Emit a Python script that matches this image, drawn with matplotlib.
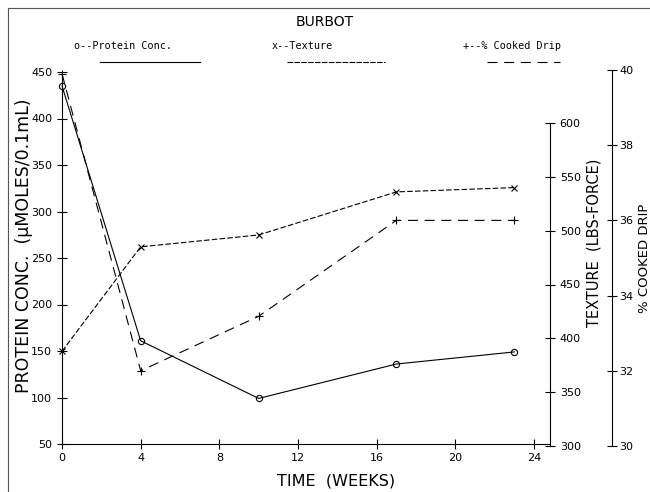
import matplotlib
matplotlib.use("Agg")
import matplotlib.pyplot as plt
from matplotlib.lines import Line2D

weeks = [0, 4, 10, 17, 23]
protein = [435, 161, 99, 136, 149]
texture = [388, 485, 496, 536, 540]
drip = [39.9, 32.0, 33.45, 36.0, 36.0]

xticks = [0, 4, 8, 12, 16, 20, 24]
protein_ticks = [50, 100, 150, 200, 250, 300, 350, 400, 450]
texture_ticks = [300, 350, 400, 450, 500, 550, 600]
drip_ticks = [30, 32, 34, 36, 38, 40]

W, H = 650, 492
fig = plt.figure(figsize=(W / 100, H / 100), dpi=100)
plt.rcParams['font.family'] = ['DejaVu Sans']

def fx(px):
    return px / W

def fy(py):
    return 1 - py / H

x0, x1 = 62, 550
xmax = (x1 - x0) / ((534 - 62) / 24)
lw = 0.8
tick_kw = dict(direction='inout', length=7, width=0.8, labelsize=8, colors='black')

# Protein axis
ax1 = fig.add_axes([fx(x0), fy(444), fx(x1 - x0), (444 - 72) / H])
ax1.set_xlim(0, xmax)
ax1.set_ylim(50, 450)
for s in ['top', 'right']:
    ax1.spines[s].set_visible(False)
for s in ['left', 'bottom']:
    ax1.spines[s].set_linewidth(0.8)
ax1.set_xticks(xticks)
ax1.set_yticks(protein_ticks)
ax1.tick_params(axis='both', **tick_kw)
ax1.tick_params(axis='x', pad=3)
ax1.plot(weeks, protein, color='black', lw=lw, ls='-', marker='o', ms=4.5,
         mfc='none', mew=0.8, clip_on=False)
ax1.patch.set_alpha(0)
fig.text(fx(336), fy(481), 'TIME  (WEEKS)', fontsize=11.5, ha='center', va='center')
fig.text(fx(24), fy(246), 'PROTEIN CONC.  (\u03bcMOLES/0.1mL)', fontsize=12.5,
         rotation=90, ha='center', va='center')

# Texture axis
ax2 = fig.add_axes([fx(x0), fy(446), fx(x1 - x0), (446 - 123) / H])
ax2.set_xlim(0, xmax)
ax2.set_ylim(300, 600)
for s in ['top', 'left', 'bottom']:
    ax2.spines[s].set_visible(False)
ax2.spines['right'].set_linewidth(0.8)
ax2.yaxis.tick_right()
ax2.set_xticks([])
ax2.set_yticks(texture_ticks)
ax2.tick_params(axis='y', **tick_kw)
ax2.plot(weeks, texture, color='black', lw=lw, ls=(0, (5, 2)), marker='x', ms=4.5,
         mew=0.8, clip_on=False)
ax2.patch.set_alpha(0)
fig.text(fx(594), fy(243), 'TEXTURE  (LBS-FORCE)', fontsize=10.5, rotation=90,
         ha='center', va='center')

# Cooked drip axis
ax3 = fig.add_axes([fx(x0), fy(446), fx(x1 - x0), (446 - 70) / H])
ax3.set_xlim(0, xmax)
ax3.set_ylim(30, 40)
for s in ['top', 'left', 'bottom']:
    ax3.spines[s].set_visible(False)
ax3.spines['right'].set_linewidth(0.8)
ax3.spines['right'].set_position(('axes', (612 - x0) / (x1 - x0)))
ax3.yaxis.tick_right()
ax3.set_xticks([])
ax3.set_yticks(drip_ticks)
ax3.tick_params(axis='y', **tick_kw)
ax3.tick_params(axis='y', pad=2)
ax3.plot(weeks, drip, color='black', lw=lw, ls=(0, (9, 6)), marker='+', ms=6,
         mew=0.8, clip_on=False)
ax3.patch.set_alpha(0)
fig.text(fx(644), fy(258), '% COOKED DRIP', fontsize=9.5, rotation=90,
         ha='center', va='center')

# Title and legend
fig.text(fx(325), fy(22), 'BURBOT', fontsize=10, ha='center', va='center')
legend_items = [
    ('o--Protein Conc.', 123, (100, 200), '-'),
    ('x--Texture', 302, (287, 385), (0, (5, 1.2))),
    ('+--% Cooked Drip', 512, (487, 560), (0, (9, 6))),
]
for label, cx, (lx0, lx1), ls in legend_items:
    fig.text(fx(cx), fy(46), label, fontsize=7.3, ha='center', va='center',
             family='DejaVu Sans Mono')
    fig.add_artist(Line2D([fx(lx0), fx(lx1)], [fy(62), fy(62)], color='black',
                          lw=0.8, ls=ls))

# Scan border
fig.add_artist(Line2D([fx(8), fx(8)], [fy(8), fy(492)], color='#555555', lw=0.8))
fig.add_artist(Line2D([fx(8), fx(650)], [fy(8), fy(8)], color='#555555', lw=0.8))

fig.savefig('out.png', dpi=100)
